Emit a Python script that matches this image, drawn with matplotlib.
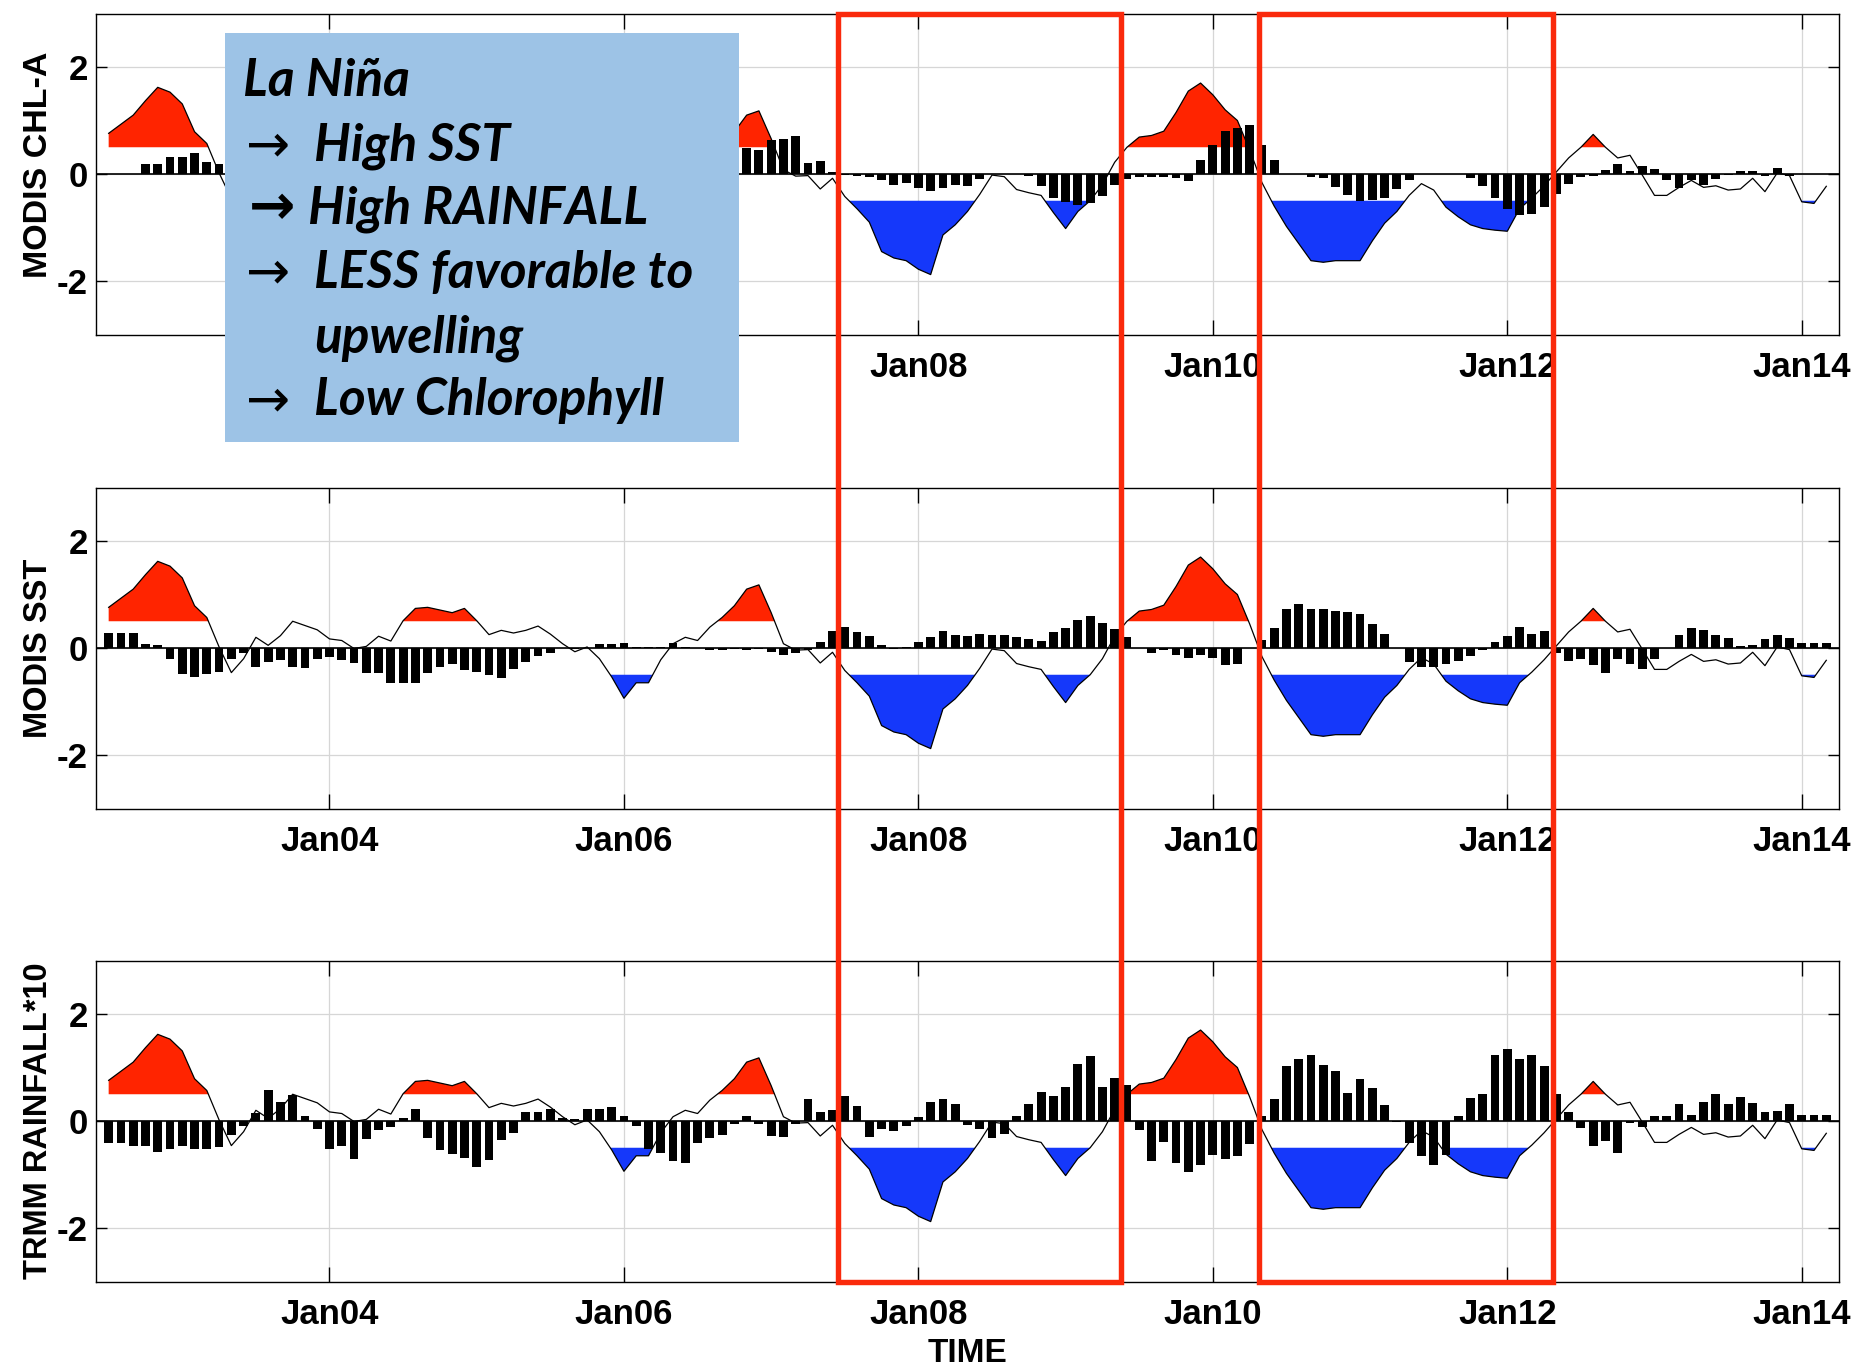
import numpy as np
import matplotlib
matplotlib.use("Agg")
import matplotlib.pyplot as plt
from matplotlib.patches import Rectangle

# monthly values, Jul 2002 .. Mar 2014
start_year = 2002.5

oni = [
    0.76, 0.93, 1.10, 1.37, 1.62, 1.53, 1.31, 0.79, 0.57, 0.02,
    -0.46, -0.20, 0.20, 0.05, 0.23, 0.50, 0.42, 0.34, 0.17, 0.14,
    -0.01, 0.03, 0.22, 0.13, 0.51, 0.74, 0.76, 0.71, 0.66, 0.74,
    0.51, 0.25, 0.33, 0.28, 0.33, 0.41, 0.26, 0.08, -0.07, 0.02,
    -0.20, -0.54, -0.94, -0.65, -0.65, -0.22, 0.08, 0.20, 0.14, 0.39,
    0.57, 0.79, 1.10, 1.18, 0.66, 0.08, -0.04, -0.03, -0.28, -0.08,
    -0.42, -0.65, -0.90, -1.45, -1.57, -1.62, -1.78, -1.88, -1.14, -0.95,
    -0.70, -0.38, -0.02, -0.05, -0.29, -0.35, -0.40, -0.72, -1.02, -0.70,
    -0.50, -0.20, 0.22, 0.50, 0.69, 0.72, 0.80, 1.15, 1.55, 1.70,
    1.48, 1.20, 1.00, 0.45, -0.16, -0.60, -0.98, -1.30, -1.62, -1.65,
    -1.62, -1.62, -1.62, -1.25, -0.92, -0.70, -0.40, -0.18, -0.30, -0.62,
    -0.80, -0.95, -1.02, -1.05, -1.07, -0.65, -0.45, -0.22, 0.04, 0.30,
    0.50, 0.74, 0.50, 0.30, 0.35, -0.02, -0.40, -0.40, -0.25, -0.12,
    -0.25, -0.22, -0.30, -0.28, -0.08, -0.33, 0.02, -0.03, -0.52, -0.55,
    -0.23,
]

# Oct 2002 - May 2006 of the chlorophyll series sits under the note box
chl = (
    [0.00, 0.00, 0.00, 0.18, 0.18, 0.31, 0.31, 0.40, 0.22, 0.18]
    + [np.nan] * 42
    + [0.48, 0.44, 0.63, 0.66, 0.71, 0.21, 0.25, 0.04]
    + [-0.02, -0.03, -0.06, -0.12, -0.20, -0.16, -0.26, -0.31, -0.27, -0.20,
       -0.22, -0.09, 0.00, 0.00, 0.00, -0.03, -0.22, -0.44, -0.52, -0.58,
       -0.55, -0.42, -0.20, -0.09, -0.06, -0.06, -0.06, -0.07, -0.14, 0.26,
       0.55, 0.80, 0.86, 0.92, 0.54, 0.26, 0.00, 0.00, -0.06, -0.07,
       -0.25, -0.40, -0.51, -0.49, -0.45, -0.28, -0.12, 0.00, 0.00, 0.00,
       0.00, -0.07, -0.23, -0.45, -0.65, -0.77, -0.74, -0.62, -0.37, -0.18,
       -0.06, -0.04, 0.07, 0.18, 0.06, 0.15, 0.09, -0.12, -0.26, -0.12,
       -0.20, -0.09, -0.01, 0.05, 0.05, -0.03, 0.12, -0.03, 0.00, 0.00,
       0.00]
)

sst = [
    0.28, 0.28, 0.28, 0.08, 0.06, -0.20, -0.49, -0.54, -0.49, -0.44,
    -0.20, -0.09, -0.35, -0.26, -0.22, -0.35, -0.38, -0.20, -0.17, -0.23,
    -0.28, -0.46, -0.46, -0.66, -0.66, -0.66, -0.46, -0.35, -0.29, -0.41,
    -0.44, -0.50, -0.57, -0.40, -0.26, -0.15, -0.09, 0.00, -0.02, 0.00,
    0.07, 0.08, 0.10, 0.02, 0.02, 0.02, 0.09, 0.01, 0.00, -0.04,
    -0.04, -0.02, -0.04, -0.02, -0.07, -0.14, -0.09, -0.03, 0.12, 0.32,
    0.40, 0.30, 0.23, 0.06, -0.02, 0.01, 0.11, 0.20, 0.31, 0.24,
    0.23, 0.27, 0.25, 0.24, 0.21, 0.16, 0.14, 0.30, 0.37, 0.53,
    0.60, 0.47, 0.35, 0.20, 0.00, -0.09, -0.04, -0.13, -0.18, -0.13,
    -0.18, -0.32, -0.29, 0.00, 0.15, 0.38, 0.73, 0.82, 0.72, 0.72,
    0.70, 0.68, 0.63, 0.45, 0.26, 0.00, -0.26, -0.36, -0.36, -0.29,
    -0.24, -0.15, -0.03, 0.12, 0.23, 0.40, 0.27, 0.31, -0.10, -0.24,
    -0.21, -0.32, -0.47, -0.20, -0.30, -0.40, -0.21, 0.00, 0.25, 0.38,
    0.34, 0.25, 0.19, 0.03, 0.05, 0.16, 0.24, 0.18, 0.09, 0.09,
    0.09,
]

rain = [
    -0.41, -0.41, -0.46, -0.47, -0.58, -0.52, -0.46, -0.52, -0.53, -0.49,
    -0.27, -0.10, 0.15, 0.58, 0.36, 0.49, 0.10, -0.15, -0.53, -0.46,
    -0.71, -0.34, -0.16, -0.12, 0.06, 0.23, -0.32, -0.55, -0.61, -0.70,
    -0.86, -0.73, -0.36, -0.22, 0.17, 0.17, 0.22, 0.05, 0.04, 0.23,
    0.23, 0.27, 0.10, -0.10, -0.52, -0.59, -0.75, -0.78, -0.41, -0.32,
    -0.27, -0.06, 0.10, -0.06, -0.28, -0.30, -0.06, 0.42, 0.16, 0.20,
    0.47, 0.28, -0.29, -0.15, -0.18, -0.09, 0.07, 0.35, 0.42, 0.31,
    -0.07, -0.15, -0.31, -0.25, 0.09, 0.31, 0.55, 0.47, 0.63, 1.07,
    1.22, 0.63, 0.81, 0.68, -0.17, -0.75, -0.40, -0.79, -0.96, -0.83,
    -0.63, -0.71, -0.65, -0.43, 0.10, 0.41, 1.03, 1.15, 1.24, 1.04,
    0.93, 0.52, 0.78, 0.62, 0.30, -0.01, -0.42, -0.66, -0.83, -0.63,
    0.09, 0.43, 0.50, 1.23, 1.34, 1.16, 1.24, 1.03, 0.51, 0.16,
    -0.14, -0.47, -0.37, -0.60, -0.04, -0.12, 0.09, 0.09, 0.31, 0.12,
    0.35, 0.51, 0.31, 0.45, 0.33, 0.17, 0.19, 0.31, 0.12, 0.12,
    0.12,
]

panel_labels = ["MODIS CHL-A", "MODIS SST", "TRMM RAINFALL*10"]
panel_series = [chl, sst, rain]
tick_years = [2004, 2006, 2008, 2010, 2012, 2014]
tick_labels = ["Jan04", "Jan06", "Jan08", "Jan10", "Jan12", "Jan14"]
# the note box hides the first two date labels of the top panel
top_tick_labels = ["", "", "Jan08", "Jan10", "Jan12", "Jan14"]
note_lines = ["La Niña", "High SST", "High RAINFALL", "LESS favorable to",
              "upwelling", "Low Chlorophyll"]

RED = "#ff2400"
BLUE = "#1538fa"
BOX_RED = "#fa2a0c"
NOTE_BG = "#9dc3e6"

plt.rcParams["font.family"] = ["Liberation Sans", "DejaVu Sans"]
plt.rcParams["font.weight"] = "bold"
plt.rcParams["axes.labelweight"] = "bold"
plt.rcParams["axes.unicode_minus"] = False

W, H = 1872, 1371
fig = plt.figure(figsize=(W / 100, H / 100), dpi=100)


def fx(px):
    return px / W


def fy(py):
    return 1 - py / H


t = start_year + np.arange(len(oni)) / 12.0
oni_arr = np.array(oni)

panel_tops = [13.5, 487.5, 960.5]
panel_h = 321.0
left_px, right_px = 96.0, 1839.0
label_style = [(24.5, 0.53), (23.5, 0.5), (23.5, 0.5)]

for k, (top, label, vals) in enumerate(zip(panel_tops, panel_labels, panel_series)):
    ax = fig.add_axes([fx(left_px), fy(top + panel_h), (right_px - left_px) / W, panel_h / H])
    ax.fill_between(t, 0.5, oni_arr, where=oni_arr > 0.5, interpolate=True,
                    color=RED, lw=0, zorder=1)
    ax.fill_between(t, -0.5, oni_arr, where=oni_arr < -0.5, interpolate=True,
                    color=BLUE, lw=0, zorder=1)
    ax.plot(t, oni_arr, color="k", lw=0.9, zorder=2)
    ax.axhline(0, color="k", lw=1.2, zorder=2.5)
    ax.bar(t, vals, width=0.72 / 12, color="k", lw=0, zorder=3)

    ax.set_xlim(2002.414, 2014.253)
    ax.set_ylim(-3, 3)
    ax.set_yticks([-2, 0, 2])
    ax.set_yticklabels(["-2", "0", "2"])
    ax.set_xticks(tick_years)
    ax.set_xticklabels(top_tick_labels if k == 0 else tick_labels)
    ax.grid(True, color="#d6d6d6", lw=0.9)
    ax.set_axisbelow(True)
    ax.tick_params(axis="x", direction="in", top=True, length=11, width=1,
                   labelsize=25, pad=12)
    ax.tick_params(axis="y", direction="in", right=True, length=8, width=1,
                   labelsize=25, pad=6)
    for s in ax.spines.values():
        s.set_linewidth(1.0)
    size, ypos = label_style[k]
    ax.set_ylabel(label, fontsize=size)
    ax.yaxis.set_label_coords(-0.024, ypos)

fig.text(fx(967.5), fy(1354), "TIME", ha="center", va="center", fontsize=24)

# highlighted La Niña periods
for x0, x1 in [(837.5, 1121.3), (1259.0, 1553.0)]:
    fig.add_artist(Rectangle((fx(x0), fy(1281.5)), (x1 - x0) / W, (1281.5 - 14) / H,
                             transform=fig.transFigure, fill=False,
                             edgecolor=BOX_RED, lw=3.9, zorder=10))

# note box
fig.add_artist(Rectangle((fx(224.5), fy(442)), (739 - 224.5) / W, (442 - 33.4) / H,
                         transform=fig.transFigure, facecolor=NOTE_BG,
                         edgecolor="none", zorder=5))
note_font = dict(family=["Lato", "DejaVu Sans"], style="italic", weight="bold",
                 fontsize=37, va="center", zorder=6)
line_y = [81, 146, 209, 273, 338, 401]
fig.text(fx(243), fy(line_y[0]), note_lines[0], ha="left", **note_font)
for i, x in zip([1, 2, 3, 4, 5], [314, 308, 314, 314, 314]):
    fig.text(fx(x), fy(line_y[i]), note_lines[i], ha="left", **note_font)
for i in [1, 3, 5]:
    fig.text(fx(246), fy(line_y[i]), "→", ha="left", va="center",
             family="DejaVu Sans", weight="normal", fontsize=38, zorder=6)
fig.text(fx(249), fy(line_y[2]), "→", ha="left", va="center",
         family="DejaVu Sans", weight="bold", fontsize=40, zorder=6)

fig.savefig("out.png", dpi=100)
